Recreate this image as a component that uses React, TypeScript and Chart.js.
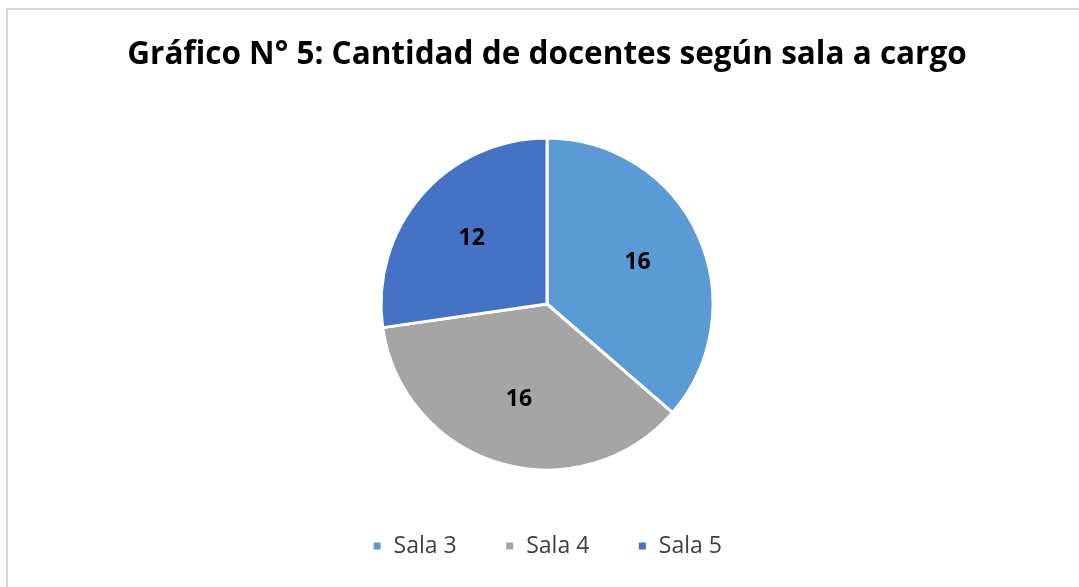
import React, { useEffect, useRef } from "react";
import { Chart, registerables } from "chart.js";

Chart.register(...registerables);

const categories = ["Sala 3", "Sala 4", "Sala 5"];
const values = [16, 16, 12];
const colors = ["#5B9BD5", "#A5A5A5", "#4472C4"];
const titleText = "Gráfico N° 5: Cantidad de docentes según sala a cargo";

const labelPlugin = {
  id: "sliceLabels",
  afterDatasetsDraw(chart: any) {
    const ctx = chart.ctx;
    const meta = chart.getDatasetMeta(0);
    ctx.save();
    ctx.font = "bold 23px 'Open Sans', sans-serif";
    ctx.fillStyle = "#000000";
    ctx.textAlign = "center";
    ctx.textBaseline = "middle";
    meta.data.forEach((arc: any, i: number) => {
      const mid = (arc.startAngle + arc.endAngle) / 2;
      const r = arc.outerRadius * 0.6;
      const x = arc.x + Math.cos(mid) * r;
      const y = arc.y + Math.sin(mid) * r;
      ctx.fillText(String(values[i]), x, y);
    });
    ctx.restore();
  },
};

export default function App() {
  const ref = useRef<HTMLCanvasElement>(null);
  useEffect(() => {
    if (!ref.current) return;
    const chart = new Chart(ref.current, {
      type: "pie",
      data: {
        labels: categories,
        datasets: [
          {
            data: values,
            backgroundColor: colors,
            borderColor: "#ffffff",
            borderWidth: 3,
            radius: 166,
          },
        ],
      },
      options: {
        responsive: false,
        animation: false,
        layout: { padding: { left: 15, right: 0, top: 0, bottom: 19.5 } },
        plugins: {
          title: {
            display: true,
            text: titleText,
            color: "#000000",
            font: { family: "'Open Sans', sans-serif", size: 31.5, weight: "bold", lineHeight: 1.2 },
            padding: { top: 36, bottom: 47.7 },
          },
          legend: {
            position: "bottom",
            labels: {
              color: "#404040",
              font: { family: "'Open Sans', sans-serif", size: 23 },
              boxWidth: 10,
              boxHeight: 10,
              padding: 48,
            },
          },
          tooltip: { enabled: false },
        },
      },
      plugins: [labelPlugin],
    });
    return () => chart.destroy();
  }, []);
  return (
    <div style={{ position: "fixed", left: 0, top: 0, width: 1079, height: 587, background: "#fff" }}>
      <div
        style={{
          position: "absolute",
          left: 6,
          top: 8,
          width: 1079,
          height: 587,
          borderTop: "2px solid #d9d9d9",
          borderLeft: "2px solid #d9d9d9",
          boxSizing: "border-box",
        }}
      />
      <canvas ref={ref} width={1079} height={587} style={{ position: "absolute", left: 0, top: 0 }} />
    </div>
  );
}
